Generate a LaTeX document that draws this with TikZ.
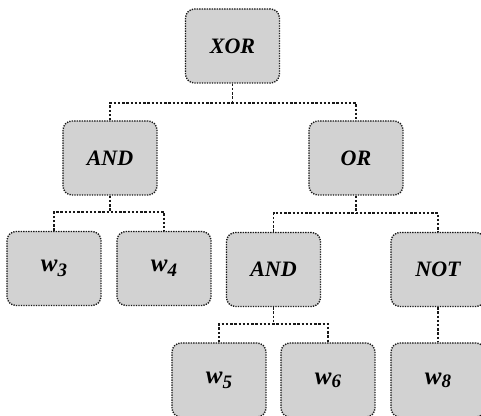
\documentclass[tikz,border=0pt]{standalone}
\usepackage{fontspec}
\setmainfont{Liberation Serif}
\definecolor{boxfill}{RGB}{210,210,210}
\definecolor{edge}{RGB}{25,25,25}
\newcommand\wsub[2][5pt]{w\raisebox{-#1}{\fontsize{19}{19}\selectfont #2}}
\begin{document}
\begin{tikzpicture}[x=1pt,y=-1pt,
  gate/.style={draw=edge, fill=boxfill, line width=1.4pt, dash pattern=on 1.3pt off 1.2pt,
    rounded corners=9pt, minimum width=94pt, minimum height=74pt, inner sep=0pt,
    font=\fontsize{22}{22}\selectfont\bfseries\itshape},
  leaf/.style={gate, font=\fontsize{25}{25}\selectfont\bfseries\itshape},
  conn/.style={draw=edge, line width=1.4pt, dash pattern=on 2.4pt off 1.8pt}]
\useasboundingbox (0,0) rectangle (481,415);
\clip (0,0) rectangle (481,415);
\node[gate] (XOR) at (232.5,46) {XOR};
\node[gate] (AND1) at (110,158) {AND};
\node[gate] (OR) at (356,158) {OR};
\node[leaf] (w3) at (54,268.5) {\wsub{3}};
\node[leaf] (w4) at (164,268.5) {\wsub{4}};
\node[gate] (AND2) at (273.5,269.5) {AND};
\node[gate] (NOT) at (438,269.5) {NOT};
\node[leaf] (w5) at (219,380) {\wsub{5}};
\node[leaf] (w6) at (328,380) {\wsub[3pt]{6}};
\node[leaf] (w8) at (438,380) {\wsub[3pt]{8}};
\coordinate (b1) at (232.5,103);
\coordinate (b2) at (110,212);
\coordinate (b3) at (356,213);
\coordinate (b4) at (273.5,324);
\draw[conn] (XOR.south) -- (b1);
\draw[conn] (AND1.north) |- (b1) -| (OR.north);
\draw[conn] (AND1.south) -- (b2);
\draw[conn] (w3.north) |- (b2) -| (w4.north);
\draw[conn] (OR.south) -- (b3);
\draw[conn] (AND2.north) |- (b3) -| (NOT.north);
\draw[conn] (AND2.south) -- (b4);
\draw[conn] (w5.north) |- (b4) -| (w6.north);
\draw[conn] (NOT.south) -- (w8.north);
\end{tikzpicture}
\end{document}
